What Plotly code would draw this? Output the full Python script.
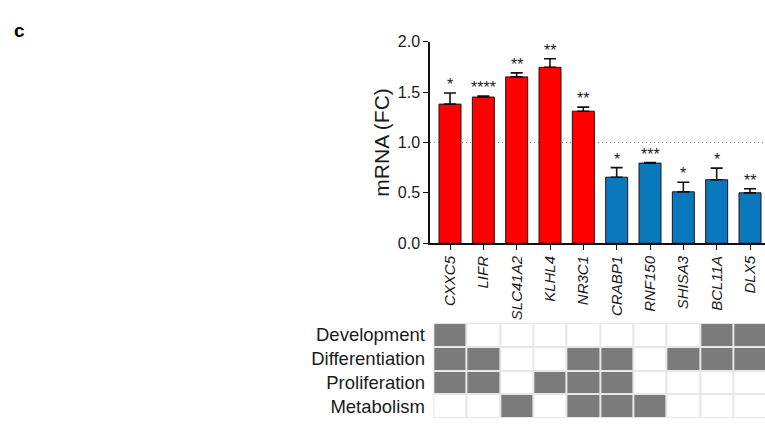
import plotly.graph_objects as go

# Gene expression fold change (mean with upper SEM) and significance marks
genes = ["CXXC5", "LIFR", "SLC41A2", "KLHL4", "NR3C1",
         "CRABP1", "RNF150", "SHISA3", "BCL11A", "DLX5"]
fold_change = [1.38, 1.45, 1.65, 1.745, 1.31, 0.655, 0.795, 0.51, 0.63, 0.50]
sem_upper = [0.11, 0.01, 0.04, 0.085, 0.04, 0.095, 0.005, 0.095, 0.115, 0.04]
stars = ["*", "****", "**", "**", "**", "*", "***", "*", "*", "**"]
direction = ["up"] * 5 + ["down"] * 5

# Functional annotation matrix (rows = categories, columns = genes)
categories = ["Development", "Differentiation", "Proliferation", "Metabolism"]
annotation = [
    [1, 0, 0, 0, 0, 0, 0, 0, 1, 1],
    [1, 1, 0, 0, 1, 1, 0, 1, 1, 1],
    [1, 1, 0, 1, 1, 1, 0, 0, 0, 0],
    [0, 0, 1, 0, 1, 1, 1, 0, 0, 0],
]

W, H = 765, 427
FONT = "Arial, Liberation Sans, sans-serif"
RED = "#fe0000"
BLUE = "#0a78bd"

x_idx = list(range(len(genes)))
bar_colors = [RED if d == "up" else BLUE for d in direction]
err_top = [v + e for v, e in zip(fold_change, sem_upper)]

fig = go.Figure()

fig.add_trace(go.Bar(
    x=x_idx, y=fold_change, width=0.66,
    marker=dict(color=bar_colors, line=dict(color="#2a1010", width=1)),
    error_y=dict(type="data", symmetric=False, array=sem_upper,
                 arrayminus=[0] * len(genes), color="#111111",
                 thickness=1.6, width=6),
    xaxis="x", yaxis="y", showlegend=False,
))

# Grid background for the annotation matrix, then the cells with gaps
n_rows, n_cols = len(categories), len(genes)
fig.add_trace(go.Heatmap(
    z=[[0] * n_cols for _ in range(n_rows)],
    x=x_idx, y=list(range(n_rows)),
    colorscale=[[0, "#e6e6e6"], [1, "#e6e6e6"]], showscale=False,
    hoverinfo="skip", xaxis="x2", yaxis="y2",
))
fig.add_trace(go.Heatmap(
    z=annotation, x=x_idx, y=list(range(n_rows)),
    colorscale=[[0, "#ffffff"], [1, "#7b7b7b"]], zmin=0, zmax=1,
    showscale=False, xgap=2, ygap=2, xaxis="x2", yaxis="y2",
))

x_left = 430 / W
xr = [-0.6, 9.45]
fig.update_layout(
    width=W, height=H,
    margin=dict(l=0, r=0, t=0, b=0),
    paper_bgcolor="white", plot_bgcolor="rgba(0,0,0,0)",
    font=dict(family=FONT, color="#1a1a1a"),
    xaxis=dict(
        domain=[x_left, 1], range=xr, tickmode="array", tickvals=x_idx,
        ticktext=[f"<i>{g}</i>" for g in genes], tickangle=-90,
        tickfont=dict(size=15, family=FONT, color="#1a1a1a"),
        showline=True, linecolor="#111111", linewidth=1.5,
        ticks="outside", ticklen=5, tickwidth=1.3, tickcolor="#111111",
        showgrid=False, zeroline=False, anchor="y",
    ),
    yaxis=dict(
        domain=[(H - 245) / H, (H - 35) / H], range=[0, 2],
        tickvals=[0, 0.5, 1.0, 1.5, 2.0], tickformat=".1f",
        tickfont=dict(size=16, family=FONT, color="#1a1a1a"),
        showline=True, linecolor="#111111", linewidth=1.5,
        ticks="outside", ticklen=5, tickwidth=1.3, tickcolor="#111111",
        showgrid=False, zeroline=False, anchor="x",
        title=dict(text="mRNA (FC)", font=dict(size=21, family=FONT), standoff=2),
    ),
    xaxis2=dict(
        domain=[x_left, 1], range=xr, showticklabels=False, showline=False,
        showgrid=False, zeroline=False, ticks="", anchor="y2",
    ),
    yaxis2=dict(
        domain=[0, (H - 328) / H], range=[3.5, -0.5],
        tickmode="array", tickvals=list(range(n_rows)), ticktext=categories,
        tickfont=dict(size=18.5, family=FONT, color="#1a1a1a"),
        showline=False, showgrid=False, zeroline=False, ticks="",
        anchor="x2", ticklabelstandoff=4,
    ),
)

# Reference level at FC = 1
fig.add_shape(type="line", xref="x", yref="y", x0=xr[0], x1=xr[1], y0=1, y1=1,
              line=dict(color="#777777", width=1, dash="1px,3px"), layer="below")

# Significance asterisks above each error bar
for i, (s, top) in enumerate(zip(stars, err_top)):
    fig.add_annotation(x=i, y=top, xref="x", yref="y", text=s, showarrow=False,
                       yanchor="bottom", yshift=-2,
                       font=dict(size=16, family=FONT, color="#1a1a1a"))

# Panel letter
fig.add_annotation(x=12 / W, y=1 - 10 / H, xref="paper", yref="paper", text="<b>c</b>",
                   showarrow=False, xanchor="left", yanchor="top",
                   font=dict(size=19, family=FONT, color="#000000"))

fig.write_html("out.html")
